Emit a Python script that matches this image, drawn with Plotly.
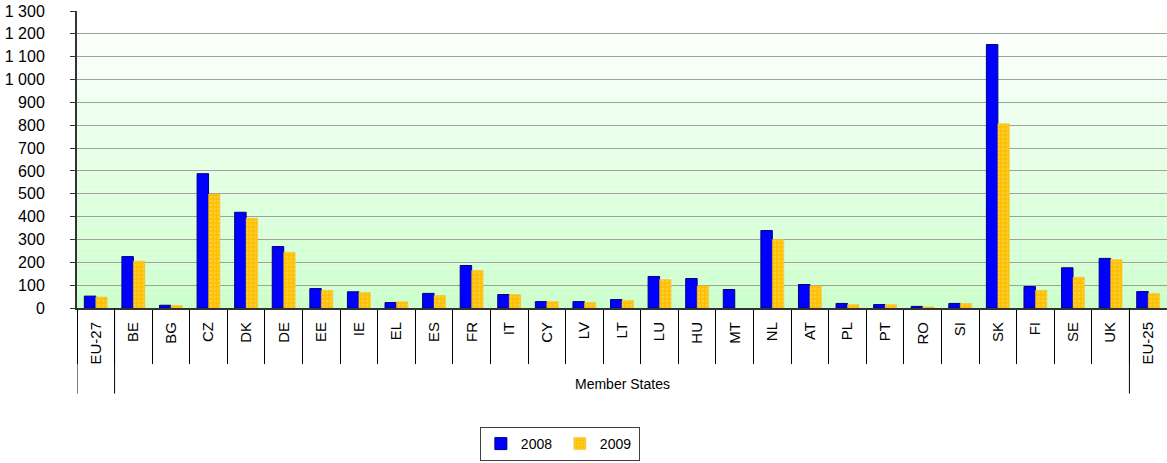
import plotly.graph_objects as go

# Member States plus the EU-27 and EU-25 aggregates
countries = ["EU-27", "BE", "BG", "CZ", "DK", "DE", "EE", "IE", "EL", "ES", "FR",
             "IT", "CY", "LV", "LT", "LU", "HU", "MT", "NL", "AT", "PL", "PT",
             "RO", "SI", "SK", "FI", "SE", "UK", "EU-25"]
values_2008 = [52, 225, 12, 588, 419, 269, 85, 71, 24, 64, 186,
               59, 28, 28, 37, 138, 129, 81, 339, 103, 20, 15,
               7, 20, 1153, 94, 176, 217, 72]
values_2009 = [48, 205, 11, 499, 393, 244, 77, 68, 27, 55, 164,
               59, 28, 24, 33, 125, 97, None, 300, 97, 15, 15,
               5, 20, 807, 77, 135, 212, 64]
y_ticks = list(range(0, 1301, 100))
group_label = "Member States"

FONT = "Liberation Sans, Arial, sans-serif"

fig = go.Figure()
fig.add_trace(go.Bar(
    name="2008", x=countries, y=values_2008,
    marker=dict(color="#0000FF", line=dict(color="#00007A", width=1)),
))
fig.add_trace(go.Bar(
    name="2009", x=countries, y=values_2009,
    marker=dict(color="#FFC000", line=dict(color="#F0C040", width=0.5),
                pattern=dict(shape=".", fgcolor="#F8DC80", bgcolor="#FFC000",
                             size=4, solidity=0.35)),
))

# vertical white-to-green gradient behind the plot area
shapes = []
n_bands = 60
for i in range(n_bands):
    t = i / (n_bands - 1)
    r = round(255 - (255 - 204) * t)
    b = round(255 - (255 - 204) * t)
    shapes.append(dict(
        type="rect", xref="paper", yref="paper", layer="below",
        x0=0, x1=1, y0=1 - (i + 1) / n_bands, y1=1 - i / n_bands,
        fillcolor=f"rgb({r},255,{b})", line=dict(width=0),
    ))

# longer dividers separating the aggregates from the Member States group
for xb in [-0.5, 0.5, 27.5]:
    shapes.append(dict(
        type="line", xref="x", yref="paper", x0=xb, x1=xb, y0=0, y1=-0.288,
        line=dict(color="#000000", width=1),
    ))

fig.update_layout(
    width=1167, height=463,
    margin=dict(l=77, r=0, t=11, b=155, autoexpand=False),
    paper_bgcolor="white",
    plot_bgcolor="rgba(0,0,0,0)",
    separators=", ",
    barmode="group", bargap=0.39, bargroupgap=0,
    font=dict(family=FONT, size=14, color="#000000"),
    shapes=shapes,
    showlegend=True,
    legend=dict(
        orientation="h", x=0.443, xanchor="center",
        yref="container", y=2 / 463, yanchor="bottom",
        bordercolor="#404040", borderwidth=1, bgcolor="white",
        font=dict(family=FONT, size=14), itemwidth=30, entrywidth=34,
        tracegroupgap=0, valign="middle",
    ),
    annotations=[dict(
        text=group_label, xref="paper", yref="paper", x=0.5, y=-0.255,
        xanchor="center", yanchor="middle", showarrow=False,
        font=dict(family=FONT, size=14),
    )],
)

fig.update_xaxes(
    type="category", range=[-0.5, len(countries) - 0.5],
    tickangle=-90, tickson="boundaries", ticks="outside", ticklen=54,
    tickcolor="#000000", tickwidth=1, ticklabelstandoff=6,
    showline=True, linecolor="#333333", linewidth=2,
    tickfont=dict(family=FONT, size=15),
    showgrid=False,
)
fig.update_yaxes(
    range=[0, 1300], tickvals=y_ticks, tickformat=",d",
    ticks="outside", ticklen=5, tickcolor="#333333", ticklabelstandoff=22,
    showline=True, linecolor="#333333", linewidth=2,
    showgrid=True, gridcolor="#A0A0A0", gridwidth=1,
    tickfont=dict(family=FONT, size=16),
    zeroline=False,
)

fig.write_html("out.html")
